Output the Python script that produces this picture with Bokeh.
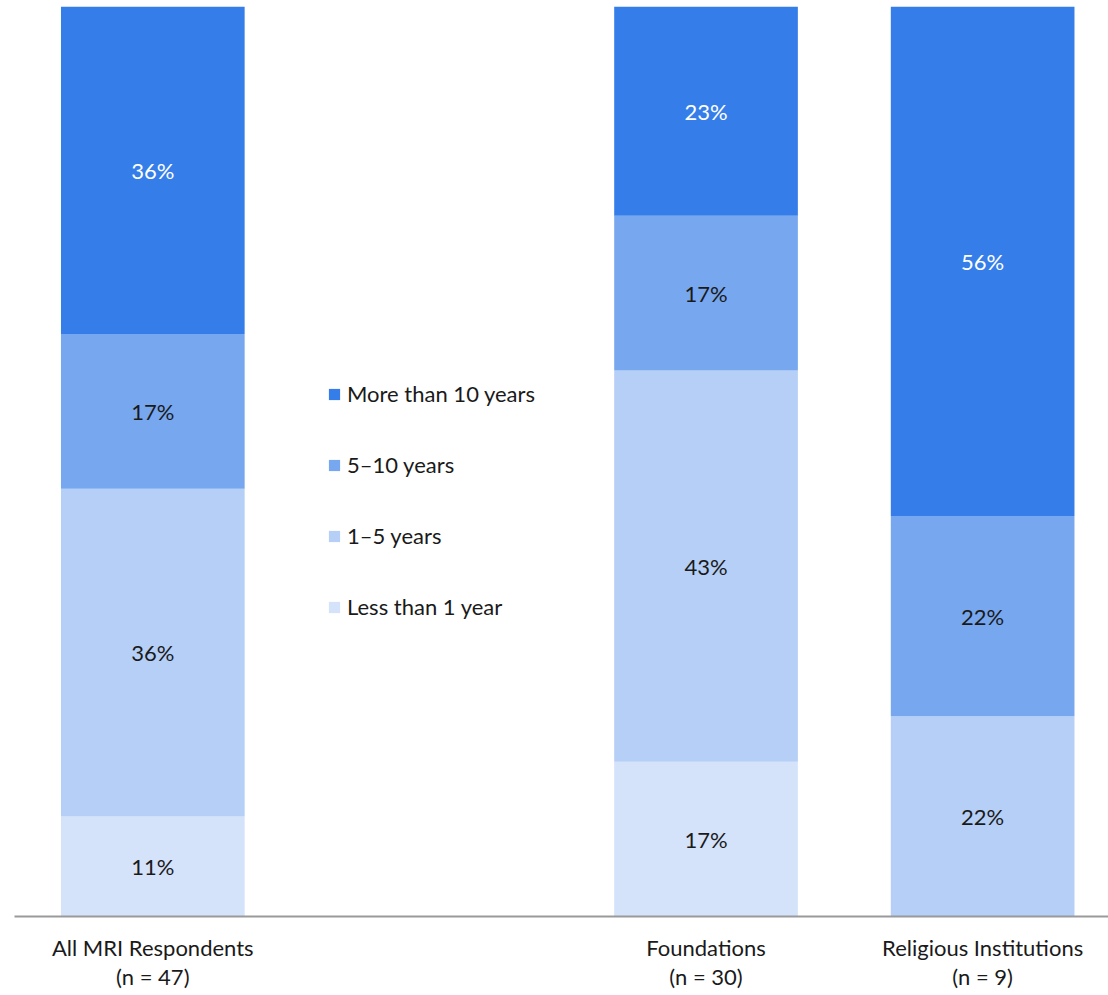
from bokeh.plotting import figure
from bokeh.models import Range1d, ColumnDataSource, Legend, LegendItem, FixedTicker
from bokeh.embed import file_html
from bokeh.resources import INLINE
from bokeh.core.properties import value

# Tenure of respondents, share of each group (%)
groups = ["All MRI Respondents", "Foundations", "Religious Institutions"]
respondents = [47, 30, 9]
less_than_1 = [11, 17, 0]
one_to_5 = [36, 43, 22]
five_to_10 = [17, 17, 22]
more_than_10 = [36, 23, 56]

series_keys = ["less_than_1", "one_to_5", "five_to_10", "more_than_10"]
series_names = ["Less than 1 year", "1\u20135 years", "5\u201310 years", "More than 10 years"]
series_values = [less_than_1, one_to_5, five_to_10, more_than_10]

colors = ["#d4e2fa", "#b5cff6", "#77a7ef", "#357ee9"]
label_colors = ["#1a1a1a", "#1a1a1a", "#1a1a1a", "#ffffff"]
FONT = "Lato"
TEXT = "#1a1a1a"

# leave the second slot empty so the legend sits between the first two bars
slots = [i + (1 if i > 0 else 0) for i in range(len(groups))]

data = dict(x=slots)
for key, vals in zip(series_keys, series_values):
    data[key] = vals
source = ColumnDataSource(data)

p = figure(
    width=1108, height=995,
    x_range=Range1d(-0.5, 3.455), y_range=Range1d(0, 100),
    output_backend="svg", toolbar_location=None,
    y_axis_location=None,
    min_border_left=14, min_border_right=0, min_border_top=6, min_border_bottom=79,
)
p.outline_line_color = None
p.xgrid.visible = False
p.ygrid.visible = False

bars = p.vbar_stack(series_keys, x="x", width=0.664, color=colors, line_color=None, source=source)

# value labels centred in each segment
lx, ly, lt, lc = [], [], [], []
for gi, sx in enumerate(slots):
    base = 0
    for si, vals in enumerate(series_values):
        v = vals[gi]
        if v > 0:
            lx.append(sx)
            ly.append(base + v / 2)
            lt.append(f"{v}%")
            lc.append(label_colors[si])
        base += v
p.text(x=lx, y=ly, text=lt, text_color=lc, text_align="center", text_baseline="middle",
       text_font=value(FONT), text_font_size="22px")

legend = Legend(
    items=[LegendItem(label=series_names[i], renderers=[bars[i]]) for i in reversed(range(4))],
    location=(313, 296),
    glyph_width=14, glyph_height=14, label_height=20, spacing=44,
    label_standoff=6, padding=0, margin=0,
    border_line_color=None, background_fill_alpha=0,
    label_text_font=FONT, label_text_font_size="22px", label_text_color=TEXT,
)
p.add_layout(legend, "center")

ax = p.xaxis[0]
ax.ticker = FixedTicker(ticks=slots)
ax.major_label_overrides = {s: f"{g}\n(n = {n})" for s, g, n in zip(slots, groups, respondents)}
ax.axis_line_color = "#9a9a9a"
ax.axis_line_width = 2
ax.major_tick_line_color = None
ax.minor_tick_line_color = None
ax.major_label_standoff = 11
ax.major_label_text_font = FONT
ax.major_label_text_font_size = "22px"
ax.major_label_text_color = TEXT
ax.major_label_text_line_height = 1.1

open("out.html", "w").write(file_html(p, INLINE))
